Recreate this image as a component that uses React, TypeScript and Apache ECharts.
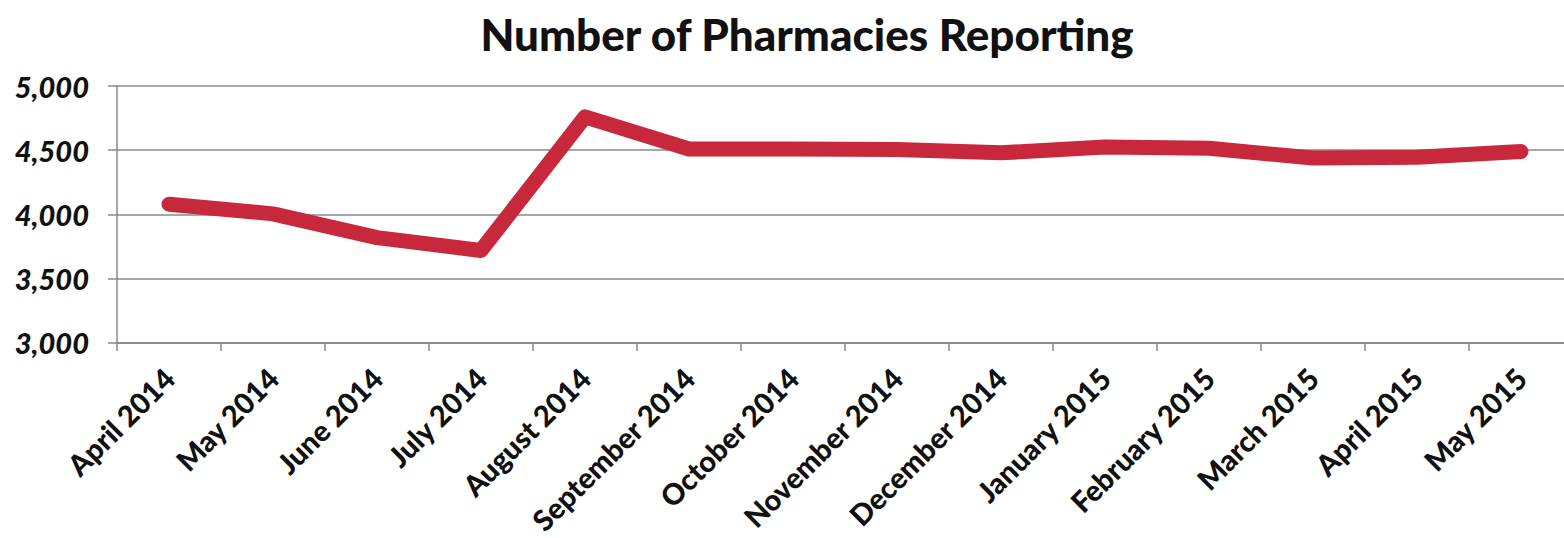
import React, { useEffect, useRef } from "react";
import * as echarts from "echarts";

const months = [
  "April 2014", "May 2014", "June 2014", "July 2014", "August 2014",
  "September 2014", "October 2014", "November 2014", "December 2014",
  "January 2015", "February 2015", "March 2015", "April 2015", "May 2015",
];
const pharmacies = [4080, 4005, 3820, 3720, 4760, 4510, 4510, 4505, 4480, 4525, 4515, 4440, 4445, 4490];
const yMin = 3000;
const yMax = 5000;
const yStep = 500;
const titleText = "Number of Pharmacies Reporting";

export default function App() {
  const ref = useRef<HTMLDivElement>(null);
  useEffect(() => {
    if (!ref.current) return;
    const chart = echarts.init(ref.current, undefined, { renderer: "svg" });
    chart.setOption({
      animation: false,
      backgroundColor: "#ffffff",
      title: {
        text: titleText,
        left: 802,
        textAlign: "center",
        top: 7,
        textStyle: { fontFamily: "Lato", fontWeight: 900, fontSize: 44, color: "#111" },
      },
      grid: { left: 117, right: 7, top: 86, bottom: 195, containLabel: false },
      xAxis: {
        type: "category",
        data: months,
        boundaryGap: true,
        axisLine: { show: true, lineStyle: { color: "#888", width: 1.5 } },
        axisTick: { show: true, length: 8, lineStyle: { color: "#888", width: 1.5 } },
        axisLabel: {
          rotate: 45,
          interval: 0,
          margin: 30,
          fontFamily: "Lato",
          fontWeight: 900,
          fontSize: 29,
          color: "#111",
        },
      },
      yAxis: {
        type: "value",
        min: yMin,
        max: yMax,
        interval: yStep,
        axisLine: { show: true, lineStyle: { color: "#888", width: 1.5 } },
        axisTick: { show: true, length: 9, lineStyle: { color: "#888", width: 1.5 } },
        splitLine: { show: true, lineStyle: { color: "#888", width: 1.5 } },
        axisLabel: {
          margin: 28,
          fontFamily: "Lato",
          fontWeight: 900,
          fontStyle: "italic",
          fontSize: 29,
          color: "#111",
          formatter: (v: number) => v.toLocaleString("en-US"),
        },
      },
      series: [
        {
          type: "line",
          data: pharmacies,
          symbol: "none",
          lineStyle: { color: "#c8283c", width: 15, cap: "round", join: "round" },
        },
      ],
    });
    return () => chart.dispose();
  }, []);
  return (
    <div
      ref={ref}
      style={{ position: "fixed", left: 0, top: 0, width: 1580, height: 538, background: "#fff" }}
    />
  );
}
